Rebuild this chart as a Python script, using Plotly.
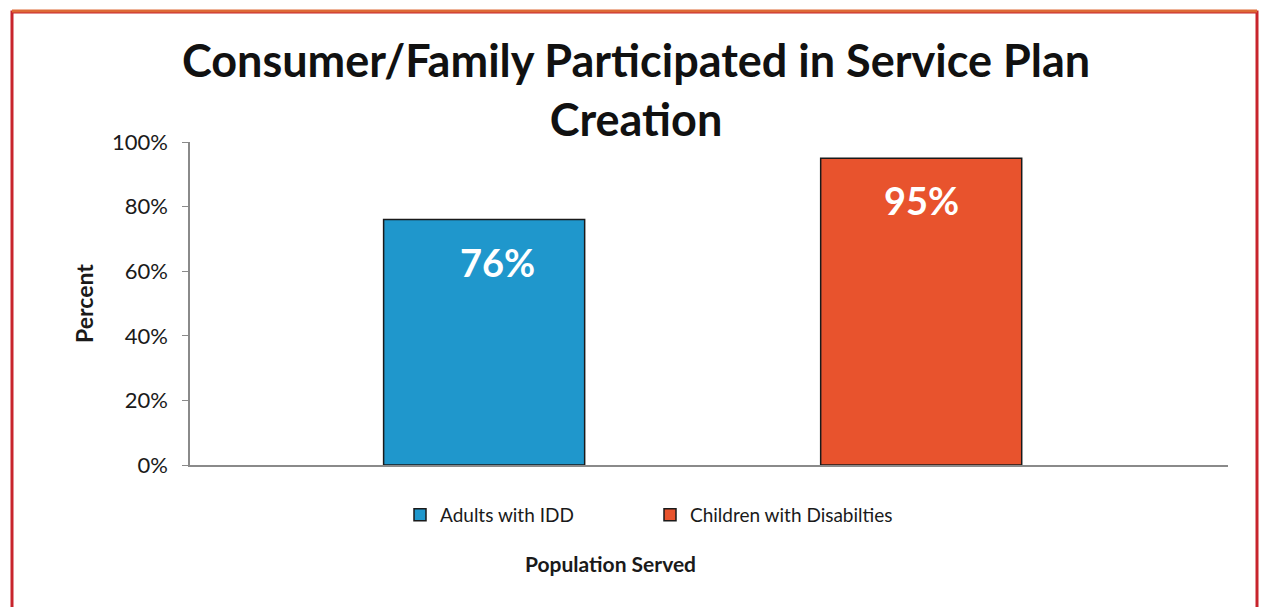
import plotly.graph_objects as go

series_names = ["Adults with IDD", "Children with Disabilties"]
series_values = [0.76, 0.95]
series_colors = ["#1f97cc", "#e8532d"]
label_xshift = [13, 0]
y_ticks = [0, 0.2, 0.4, 0.6, 0.8, 1.0]
y_tick_labels = ["0%", "20%", "40%", "60%", "80%", "100%"]

W, H = 1262, 607
L, R, T, B = 190, 34, 142, 142
pw, ph = W - L - R, H - T - B
FONT = "Lato, Open Sans, sans-serif"

def px_x(px):
    return (px - L) / pw

def px_y(py):
    return (H - B - py) / ph

fig = go.Figure()
for name, val, col in zip(series_names, series_values, series_colors):
    fig.add_trace(go.Bar(
        x=[name], y=[val], name=name, width=0.46,
        marker=dict(color=col, line=dict(color="#1a1a1a", width=1.5)),
        hoverinfo="skip",
    ))

for name, val, xs in zip(series_names, series_values, label_xshift):
    fig.add_annotation(
        x=name, y=val, xref="x", yref="y", text=f"<b>{round(val*100)}%</b>",
        showarrow=False, yanchor="top", yshift=-17, xshift=xs,
        font=dict(family=FONT, size=38, color="white"),
    )

fig.add_annotation(
    x=px_x(610), y=px_y(563), xref="paper", yref="paper",
    xanchor="center", yanchor="middle",
    text="<b>Population Served</b>", showarrow=False,
    font=dict(family=FONT, size=21, color="#1a1a1a"),
)

# frame
fig.add_shape(type="rect", xref="paper", yref="paper",
              x0=px_x(12), x1=px_x(1257), y0=px_y(660), y1=px_y(12),
              line=dict(color="#c8242c", width=3), fillcolor="rgba(0,0,0,0)", layer="below")
fig.add_shape(type="line", xref="paper", yref="paper",
              x0=px_x(12), x1=px_x(1257), y0=px_y(11), y1=px_y(11),
              line=dict(color="#dd6a36", width=3))

fig.update_layout(
    width=W, height=H,
    margin=dict(l=L, r=R, t=T, b=B, autoexpand=False),
    paper_bgcolor="white", plot_bgcolor="white",
    title=dict(
        text="<b>Consumer/Family Participated in Service Plan<br>Creation</b>",
        x=px_x(636), xref="paper", xanchor="center",
        y=1 - 77 / H, yanchor="middle",
        font=dict(family=FONT, size=45, color="#111111"),
    ),
    barmode="group",
    showlegend=True,
    legend=dict(
        orientation="h", x=px_x(650), xanchor="center", y=px_y(496), yanchor="top",
        font=dict(family=FONT, size=19, color="#1a1a1a"),
        entrywidth=205, entrywidthmode="pixels",
        bgcolor="rgba(0,0,0,0)",
    ),
    xaxis=dict(
        range=[-0.673, 1.702], showticklabels=False, ticks="",
        showline=True, linecolor="#8a8a8a", linewidth=1.5, showgrid=False, zeroline=False,
        fixedrange=True,
    ),
    yaxis=dict(
        range=[0, 1], tickvals=y_ticks, ticktext=y_tick_labels,
        ticks="outside", ticklen=6, tickcolor="#8a8a8a", ticklabelstandoff=10,
        showline=True, linecolor="#8a8a8a", linewidth=1.5, showgrid=False, zeroline=False,
        tickfont=dict(family=FONT, size=22, color="#1a1a1a"),
        title=dict(text="<b>Percent</b>", standoff=12,
                   font=dict(family=FONT, size=23, color="#1a1a1a")),
    ),
)

fig.write_html(
    "out.html",
    config={"displayModeBar": False},
    post_script="document.body.style.margin='0';document.body.style.overflow='hidden';",
)
